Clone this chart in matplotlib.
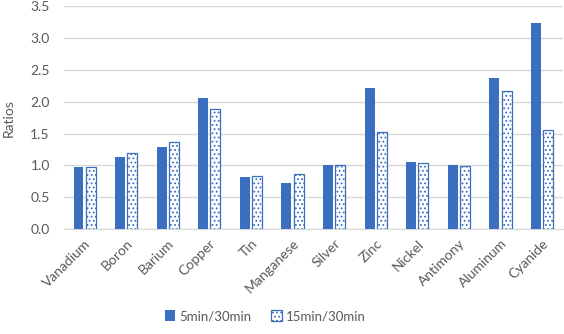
import matplotlib
matplotlib.use("Agg")
import matplotlib.pyplot as plt
import numpy as np

plt.rcParams['font.family'] = ['Lato', 'DejaVu Sans']
plt.rcParams['hatch.color'] = '#3a6ebe'
plt.rcParams['hatch.linewidth'] = 0.8

metals = ['Vanadium', 'Boron', 'Barium', 'Copper', 'Tin', 'Manganese',
          'Silver', 'Zinc', 'Nickel', 'Antimony', 'Aluminum', 'Cyanide']
ratio_5_30 = [0.97, 1.13, 1.29, 2.06, 0.81, 0.73, 1.01, 2.22, 1.05, 1.01, 2.37, 3.24]
ratio_15_30 = [0.97, 1.20, 1.36, 1.88, 0.84, 0.86, 1.01, 1.52, 1.04, 0.99, 2.17, 1.56]

blue = '#3a6ebe'
txt = '#595959'

fig = plt.figure(figsize=(5.64, 3.34), dpi=100)
ax = fig.add_axes([0.113, 0.314, 0.885, 0.668])

x = np.arange(len(metals))
w = 0.24
ax.bar(x - w / 2 - 0.025, ratio_5_30, w, color=blue, label='5min/30min', zorder=3)
ax.bar(x + w / 2 + 0.025, ratio_15_30, w, facecolor='white', edgecolor=blue,
       hatch='....', linewidth=0.9, label='15min/30min', zorder=3)

ax.set_xlim(-0.5, len(metals) - 0.5)
ax.set_ylim(0, 3.5)
ax.set_yticks(np.arange(0, 3.51, 0.5))
ax.set_yticklabels([f'{v:.1f}' for v in np.arange(0, 3.51, 0.5)])
ax.set_xticks(x)
ax.set_xticklabels(metals, rotation=45, ha='right', rotation_mode='anchor')
ax.tick_params(length=0, colors=txt, labelsize=10)
ax.tick_params(axis='y', pad=10)
ax.tick_params(axis='x', pad=6)
ax.grid(axis='y', color='#d9d9d9', linewidth=1, zorder=0)
for s in ['top', 'right', 'left']:
    ax.spines[s].set_visible(False)
ax.spines['bottom'].set_color('#d9d9d9')
ax.set_ylabel('Ratios', color=txt, fontsize=10)
ax.yaxis.set_label_coords(-0.098, 0.5)

fig.legend(loc='lower center', bbox_to_anchor=(0.47, 0.0), ncol=2, frameon=False,
           fontsize=9.5, labelcolor=txt, handlelength=0.8, handleheight=0.8,
           handletextpad=0.3, columnspacing=1.5)

fig.savefig('out.png', dpi=100)
